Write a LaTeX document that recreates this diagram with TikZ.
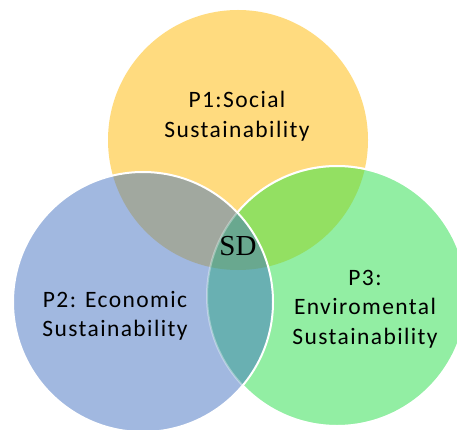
\documentclass[tikz,border=0pt]{standalone}
\usepackage{fontspec}
\newfontfamily\labelfont[LetterSpace=6]{Carlito}
\newfontfamily\sdfont{Liberation Serif}
\definecolor{cy}{HTML}{FFDB7F}
\definecolor{cb}{HTML}{A1B8E0}
\definecolor{cg}{HTML}{92EEA3}
\definecolor{cyb}{HTML}{A1A89F}
\definecolor{cyg}{HTML}{93E062}
\definecolor{cbg}{HTML}{69B0B2}
\definecolor{cybg}{HTML}{69A88F}
\tikzset{
  ring/.style={white, line width=2pt},
  pillar/.style={font=\labelfont\fontsize{23.5}{29.5}\selectfont, align=center, inner sep=0pt},
}
\def\R{130}
\begin{document}
\begin{tikzpicture}[x=1pt,y=-1pt]
\useasboundingbox (0,0) rectangle (457,430);
\coordinate (cY) at (238,140);
\coordinate (cB) at (143,302);
\coordinate (cG) at (337,296);
% single-circle areas
\fill[cy] (cY) circle[radius=\R];
\fill[cg] (cG) circle[radius=\R];
\fill[cb] (cB) circle[radius=\R];
% pairwise overlaps with the social circle
\begin{scope}
  \clip (cY) circle[radius=\R];
  \fill[cyg] (cG) circle[radius=\R];
  \fill[cyb] (cB) circle[radius=\R];
\end{scope}
% economic / environmental overlap and the common core
\begin{scope}
  \clip (cB) circle[radius=\R];
  \fill[cbg] (cG) circle[radius=\R];
  \clip (cG) circle[radius=\R];
  \fill[cybg] (cY) circle[radius=\R];
\end{scope}
% outlines
\draw[ring, opacity=0.35] (cG) circle[radius=\R];
\begin{scope}[even odd rule]
  \clip (-10,-10) rectangle (470,440) (cB) circle[radius=\R];
  \draw[ring] (cG) circle[radius=\R];
\end{scope}
\draw[ring] (cB) circle[radius=\R];
% labels
\node[pillar] (p1) at (237,116) {P1:Social\\Sustainability};
\node[pillar] (p2) at (115,316) {P2: Economic\\Sustainability};
\node[pillar] (p3) at (365,309) {P3:\\Enviromental\\Sustainability};
\node[font=\sdfont\fontsize{29}{32}\selectfont, inner sep=0pt] (sd) at (238,246.5) {SD};
\end{tikzpicture}
\end{document}
